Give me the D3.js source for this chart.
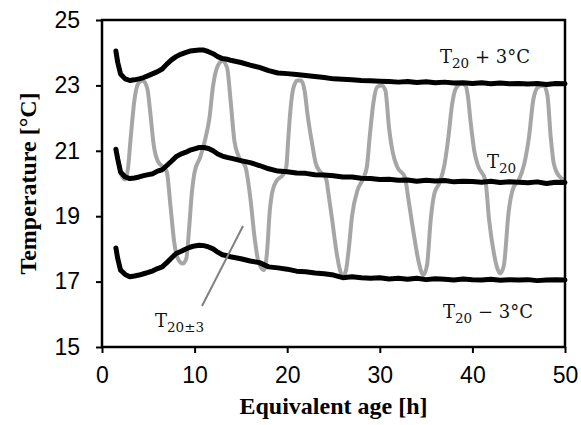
<!DOCTYPE html>
<html>
<head>
<meta charset="utf-8">
<script src="https://cdn.jsdelivr.net/npm/d3@7"></script>
<style>
  html, body { margin: 0; padding: 0; background: #fff; }
</style>
</head>
<body>
<div id="chart"></div>
<script>
// measured curves (equivalent age in h, temperature in degC)
const hours = [1.5, 1.7, 2.0, 2.5, 3, 3.5, 4, 4.5, 5, 5.5, 6, 6.5, 7, 7.5, 8, 8.5, 9, 9.5, 10, 10.5, 11, 11.5, 12, 12.5, 13, 13.5, 14,
  15, 16, 17, 18, 19, 20, 21, 22, 23, 24, 25, 26, 27, 28, 29, 30, 31, 32, 33, 34, 35, 36, 37, 38, 39, 40, 41, 42, 43, 44, 45, 46, 47, 48, 49, 50];

const tPlus3 = [24.05, 23.7, 23.35, 23.2, 23.15, 23.17, 23.2, 23.24, 23.3, 23.36, 23.42, 23.5, 23.65, 23.78, 23.88, 23.95, 24.0, 24.05, 24.07, 24.08, 24.08, 24.03, 23.97, 23.88, 23.82, 23.8, 23.76,
  23.7, 23.62, 23.55, 23.45, 23.38, 23.36, 23.33, 23.3, 23.27, 23.24, 23.2, 23.19, 23.17, 23.15, 23.14, 23.13, 23.12, 23.1, 23.12, 23.09, 23.11, 23.08, 23.1, 23.07, 23.08, 23.06, 23.08, 23.05, 23.07, 23.05, 23.06, 23.04, 23.06, 23.03, 23.06, 23.05];

const t20 = [21.05, 20.75, 20.35, 20.2, 20.15, 20.17, 20.2, 20.24, 20.27, 20.3, 20.38, 20.42, 20.55, 20.68, 20.82, 20.9, 20.95, 21.02, 21.06, 21.1, 21.1, 21.07, 21.0, 20.9, 20.84, 20.8, 20.77,
  20.7, 20.64, 20.55, 20.45, 20.38, 20.36, 20.32, 20.31, 20.27, 20.26, 20.24, 20.2, 20.2, 20.16, 20.15, 20.12, 20.13, 20.1, 20.11, 20.07, 20.1, 20.08, 20.09, 20.05, 20.07, 20.06, 20.04, 20.07, 20.03, 20.05, 20.04, 20.02, 20.05, 20.0, 20.04, 20.03];

const tMinus3 = [18.03, 17.7, 17.35, 17.22, 17.15, 17.17, 17.2, 17.24, 17.28, 17.33, 17.4, 17.45, 17.58, 17.72, 17.86, 17.92, 17.99, 18.05, 18.09, 18.11, 18.1, 18.06, 18.0, 17.9, 17.82, 17.79, 17.75,
  17.7, 17.63, 17.58, 17.45, 17.42, 17.38, 17.32, 17.3, 17.26, 17.24, 17.2, 17.12, 17.15, 17.12, 17.1, 17.12, 17.08, 17.1, 17.07, 17.1, 17.06, 17.09, 17.07, 17.05, 17.08, 17.06, 17.05, 17.07, 17.04, 17.06, 17.05, 17.06, 17.03, 17.05, 17.06, 17.05];

// cycling specimen T20±3
const cycleHours = [1.55, 1.8, 2.1, 2.5, 2.8, 3.1, 3.5, 3.9, 4.4, 4.9, 5.2, 5.6, 6.0, 6.6, 7.0, 7.4, 7.8, 8.2, 8.7, 9.1, 9.4, 9.7, 10.0, 10.6,
  11.1, 11.6, 12.0, 12.5, 13.0, 13.5, 13.9, 14.3, 14.8, 15.5, 16.0, 16.5, 16.9, 17.5, 17.85, 18.1, 18.4, 18.9, 19.5, 19.9,
  20.1, 20.35, 20.65, 21.1, 21.5, 21.9, 22.2, 22.7, 23.1, 23.6, 24.2, 24.5, 24.85, 25.3, 25.7, 26.0, 26.35, 26.65, 27.0, 27.6,
  28.2, 28.6, 28.9, 29.3, 29.7, 30.2, 30.6, 31.0, 31.4, 31.9, 32.7, 33.1, 33.7, 34.2, 34.7, 35.1, 35.5, 35.9, 36.5, 37.0,
  37.4, 37.8, 38.2, 38.8, 39.25, 39.5, 39.8, 40.2, 40.6, 41.4, 41.8, 42.3, 42.7, 43.0, 43.4, 43.9, 44.4, 45.0, 45.6, 46.1,
  46.6, 47.1, 47.7, 48.1, 48.45, 48.8, 49.3, 50.0];
const cycleTemps = [21.0, 20.6, 20.25, 20.12, 20.45, 21.4, 22.55, 23.05, 23.15, 22.9, 22.2, 21.15, 20.7, 20.5, 20.35, 19.3, 18.2, 17.7, 17.55, 17.7, 18.6, 19.7, 20.35, 20.8,
  21.3, 22.0, 23.0, 23.6, 23.75, 23.55, 22.5, 21.3, 20.8, 20.5, 19.6, 18.3, 17.6, 17.35, 18.0, 19.1, 19.75, 20.1, 20.25, 20.5,
  21.3, 22.25, 22.9, 23.15, 23.15, 22.8, 22.1, 21.2, 20.6, 20.35, 20.15, 19.6, 18.9, 17.95, 17.35, 17.15, 17.35, 18.0, 19.0, 19.8,
  20.15, 20.5, 21.4, 22.45, 22.95, 23.0, 22.85, 21.7, 20.95, 20.5, 20.2, 19.5, 18.4, 17.6, 17.2, 17.5, 18.9, 19.7, 20.05, 20.6,
  21.4, 22.4, 22.9, 23.05, 23.0, 22.7, 21.9, 21.0, 20.55, 20.1, 18.9, 17.9, 17.4, 17.25, 17.5, 19.1, 19.85, 20.1, 20.6, 21.4,
  22.6, 22.95, 23.0, 22.7, 21.45, 20.6, 20.25, 20.1];

const xTicks = [0, 10, 20, 30, 40, 50];
const yTicks = [15, 17, 19, 21, 23, 25];

const width = 581,
  height = 425,
  marginTop = 20,
  marginRight = 16,
  marginBottom = 78,
  marginLeft = 102;

const x = d3.scaleLinear()
  .domain([0, 50])
  .range([marginLeft, width - marginRight]);
const y = d3.scaleLinear()
  .domain([15, 25])
  .range([height - marginBottom, marginTop]);

const svg = d3.select('#chart').append('svg')
  .attr('width', width)
  .attr('height', height)
  .attr('viewBox', [0, 0, width, height])
  .style('font-family', '"Liberation Serif", "Times New Roman", serif');

const line = d3.line()
  .x(d => x(d[0]))
  .y(d => y(d[1]));

// grey cycling curve below the black ones
svg.append('path')
  .datum(cycleHours.map((h, i) => [h, cycleTemps[i]]))
  .attr('fill', 'none')
  .attr('stroke', '#a6a6a6')
  .attr('stroke-width', 4)
  .attr('stroke-linejoin', 'round')
  .attr('d', line.curve(d3.curveMonotoneX));

line.curve(d3.curveLinear);
for (const s of [tPlus3, t20, tMinus3]) {
  svg.append('path')
    .datum(hours.map((h, i) => [h, s[i]]))
    .attr('fill', 'none')
    .attr('stroke', '#000')
    .attr('stroke-width', 5)
    .attr('stroke-linejoin', 'round')
    .attr('stroke-linecap', 'round')
    .attr('d', line);
}

// axes
svg.append('g')
  .attr('transform', `translate(0,${height - marginBottom})`)
  .call(d3.axisBottom(x).tickValues(xTicks).tickSize(6).tickPadding(14))
  .call(g => g.select('.domain').remove())
  .call(g => g.selectAll('.tick line').attr('stroke-width', 2))
  .call(g => g.selectAll('.tick text').attr('font-size', 23).attr('font-family', null).attr('fill', '#000'));

svg.append('g')
  .attr('transform', `translate(${marginLeft},0)`)
  .call(d3.axisLeft(y).tickValues(yTicks).tickSize(6).tickPadding(16))
  .call(g => g.select('.domain').remove())
  .call(g => g.selectAll('.tick line').attr('stroke-width', 2))
  .call(g => g.selectAll('.tick text').attr('font-size', 23).attr('font-family', null).attr('fill', '#000'));

svg.append('rect')
  .attr('x', marginLeft)
  .attr('y', marginTop)
  .attr('width', width - marginLeft - marginRight)
  .attr('height', height - marginTop - marginBottom)
  .attr('fill', 'none')
  .attr('stroke', '#000')
  .attr('stroke-width', 2.5);

svg.append('text')
  .attr('x', (marginLeft + width - marginRight) / 2)
  .attr('y', 414)
  .attr('text-anchor', 'middle')
  .attr('font-size', 24)
  .attr('font-weight', 'bold')
  .text('Equivalent age [h]');

svg.append('text')
  .attr('transform', `translate(36,${(marginTop + height - marginBottom) / 2}) rotate(-90)`)
  .attr('text-anchor', 'middle')
  .attr('font-size', 24)
  .attr('font-weight', 'bold')
  .text('Temperature [°C]');

// curve labels
const label = (px, py, sub, rest) => {
  const t = svg.append('text')
    .attr('x', px)
    .attr('y', py)
    .attr('font-family', '"DejaVu Serif", serif')
    .attr('font-size', 18)
    .attr('fill', '#111');
  t.append('tspan').text('T');
  t.append('tspan').attr('font-size', 13.5).attr('dy', 5).text(sub);
  if (rest) t.append('tspan').attr('dy', -5).text(rest);
};
label(440, 63, '20', ' + 3°C');
label(487, 168, '20', '');
label(443, 318, '20', ' \u2212 3°C');
label(155, 327, '20±3', '');

svg.append('line')
  .attr('x1', 202).attr('y1', 306)
  .attr('x2', 243).attr('y2', 226)
  .attr('stroke', '#808080')
  .attr('stroke-width', 2);
</script>
</body>
</html>
